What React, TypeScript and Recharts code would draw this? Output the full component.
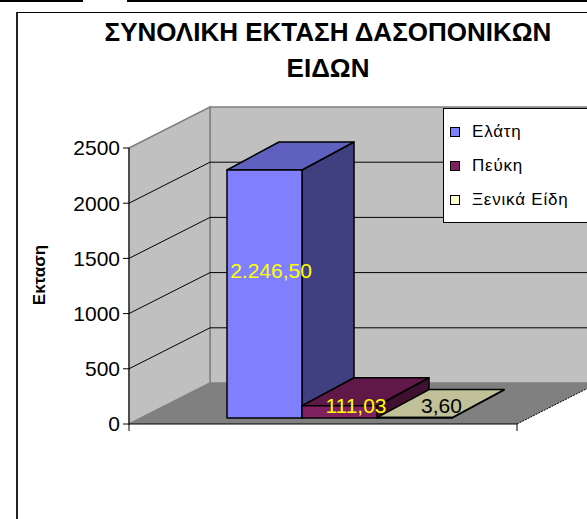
import React from "react";
import { Bar, BarChart, LabelList, Legend, ReferenceArea, ReferenceLine, XAxis, YAxis } from "recharts";

const categories = [""];
const elati = [2246.5];
const peuki = [111.03];
const xenika = [3.6];
const yTicks = [0, 500, 1000, 1500, 2000, 2500];
const gridValues = [500, 1000, 1500, 2000];

const data = categories.map((name, i) => ({ name, elati: elati[i], peuki: peuki[i], xenika: xenika[i] }));

const FONT = '"Liberation Sans", Arial, sans-serif';

// depth of the walls and of the boxes
const WX = 81;
const WY = -41;
const OX = 16;
const OY = -6;
const BX = 52;
const BY = -28;

const series = [
	{ key: "elati", name: "Ελάτη", front: "#8080FF", top: "#6060C0", side: "#404080", label: "#FFFF00", ldx: 6.5, ldy: -16 },
	{ key: "peuki", name: "Πεύκη", front: "#802060", top: "#601848", side: "#401030", label: "#FFFF00", ldx: 16.5, ldy: 1 },
	{ key: "xenika", name: "Ξενικά Είδη", front: "#FFFFCC", top: "#C0C099", side: "#808066", label: "#000000", ldx: 27, ldy: -5 },
];
const seriesNames = series.map((s) => s.name);

const fmt = (v: number) => {
	const [i, d] = v.toFixed(2).split(".");
	return i.replace(/\B(?=(\d{3})+(?!\d))/g, ".") + "," + d;
};

const Walls = (p: any) => {
	const { x, y, width, height } = p;
	const r = x + width;
	const b = y + height;
	return (
		<g>
			<polygon points={`${x + WX},${y + WY} ${r + WX},${y + WY} ${r + WX},${b + WY} ${x + WX},${b + WY}`} fill="#C0C0C0" stroke="#808080" strokeWidth={1.5} />
			<polygon points={`${x},${y} ${x + WX},${y + WY} ${x + WX},${b + WY} ${x},${b}`} fill="#C0C0C0" stroke="#808080" strokeWidth={1.5} />
			<polygon points={`${x},${b} ${r},${b} ${r + WX},${b + WY} ${x + WX},${b + WY}`} fill="#808080" />
			<line x1={r} y1={b} x2={r + WX} y2={b + WY} stroke="#000" strokeWidth={1} strokeDasharray="2 1" />
			<line x1={x} y1={b} x2={r} y2={b} stroke="#000" strokeWidth={1} />
			<line x1={r} y1={b} x2={r} y2={b + 7} stroke="#000" strokeWidth={1} />
			<line x1={x} y1={b} x2={x} y2={b + 7} stroke="#000" strokeWidth={1} />
		</g>
	);
};

const GridLine = (p: any) => {
	const { x1, y1, x2 } = p;
	return <path d={`M${x1},${y1} L${x1 + WX},${y1 + WY} L${x2 + WX},${y1 + WY}`} fill="none" stroke="#000" strokeWidth={1} />;
};

const makeBox = (top: string, side: string) => (p: any) => {
	const { x, y, width: w, height: h, fill } = p;
	const fx = x + OX;
	const fy = y + OY;
	return (
		<g stroke="#000" strokeWidth={1.5} strokeLinejoin="round">
			<polygon points={`${fx + w},${fy} ${fx + w + BX},${fy + BY} ${fx + w + BX},${fy + h + BY} ${fx + w},${fy + h}`} fill={side} />
			<polygon points={`${fx},${fy} ${fx + BX},${fy + BY} ${fx + w + BX},${fy + BY} ${fx + w},${fy}`} fill={top} />
			<rect x={fx} y={fy} width={w} height={h} fill={fill} />
		</g>
	);
};

const makeLabel = (color: string, ldx: number, ldy: number) => (p: any) => {
	const { x, y, width, height, value } = p;
	const cx = x + OX + width / 2 + ldx;
	const cy = y + OY + height / 2 + ldy;
	return (
		<text x={cx} y={cy} textAnchor="middle" fill={color} fontSize={21} fontFamily={FONT}>
			{fmt(Number(value))}
		</text>
	);
};

const LegendBox = ({ payload }: any) => {
	const items = [...(payload || [])].sort((a: any, b: any) => seriesNames.indexOf(a.value) - seriesNames.indexOf(b.value));
	return (
		<div
			style={{
				background: "#fff",
				borderTop: "1px solid #000",
				borderLeft: "1px solid #000",
				borderBottom: "1px solid #000",
				width: 144,
				height: 115,
				boxSizing: "border-box",
				paddingTop: 6,
				fontFamily: FONT,
				fontSize: 17,
				letterSpacing: 0.8,
				color: "#000",
			}}
		>
			{items.map((item: any) => (
				<div key={item.value} style={{ display: "flex", alignItems: "center", height: 34 }}>
					<span style={{ width: 8, height: 8, border: "1px solid #000", background: item.color, marginLeft: 6, marginRight: 12 }} />
					<span>{item.value}</span>
				</div>
			))}
		</div>
	);
};

const YLabel = (p: any) => {
	const vb = p.viewBox || { x: 69, y: 148, width: 60, height: 276 };
	const cx = vb.x - 30;
	const cy = vb.y + vb.height / 2 - 11;
	return (
		<text x={cx} y={cy} transform={`rotate(-90 ${cx} ${cy})`} textAnchor="middle" dominantBaseline="central" fontSize={17} fontWeight="bold" fontFamily={FONT} fill="#000">
			Εκταση
		</text>
	);
};

export default function App() {
	return (
		<div style={{ position: "absolute", left: 0, top: 0, width: 587, height: 519, overflow: "hidden", background: "#fff" }}>
			<div style={{ position: "absolute", left: 0, top: 0, width: 83, height: 2, background: "#000" }} />
			<div style={{ position: "absolute", left: 127, top: 0, width: 460, height: 2, background: "#000" }} />
			<div style={{ position: "absolute", left: 16, top: 12, width: 600, height: 600, borderLeft: "2px solid #222", borderTop: "1px solid #000" }} />
			<div
				style={{
					position: "absolute",
					left: 0,
					top: 14,
					width: 656,
					textAlign: "center",
					fontFamily: FONT,
					fontWeight: "bold",
					fontSize: 26,
					lineHeight: "36px",
					color: "#000",
				}}
			>
				ΣΥΝΟΛΙΚΗ ΕΚΤΑΣΗ ΔΑΣΟΠΟΝΙΚΩΝ
				<br />
				ΕΙΔΩΝ
			</div>
			<div style={{ position: "absolute", left: 0, top: 0 }}>
				<BarChart width={587} height={519} data={data} margin={{ top: 148, right: 70, bottom: 95, left: 69 }} barGap={0} barSize={75}>
					<ReferenceArea y1={0} y2={2500} shape={Walls} zIndex={-200} ifOverflow="visible" />
					{gridValues.map((v) => (
						<ReferenceLine key={v} y={v} shape={GridLine} zIndex={-100} />
					))}
					<XAxis dataKey="name" hide />
					<YAxis
						width={60}
						domain={[0, 2500]}
						ticks={yTicks}
						interval={0}
						tick={{ fontSize: 21, fill: "#000", fontFamily: FONT }}
						tickLine={{ stroke: "#000" }}
						axisLine={{ stroke: "#000" }}
						tickSize={6}
						tickMargin={3}
						label={<YLabel />}
					/>
					<Legend layout="vertical" align="center" verticalAlign="middle" content={<LegendBox />} wrapperStyle={{ left: 443, top: 108, width: 144 }} />
					{series.map((s) => (
						<Bar key={s.key} dataKey={s.key} name={s.name} fill={s.front} shape={makeBox(s.top, s.side)} isAnimationActive={false}>
							<LabelList dataKey={s.key} content={makeLabel(s.label, s.ldx, s.ldy)} />
						</Bar>
					))}
				</BarChart>
			</div>
		</div>
	);
}
